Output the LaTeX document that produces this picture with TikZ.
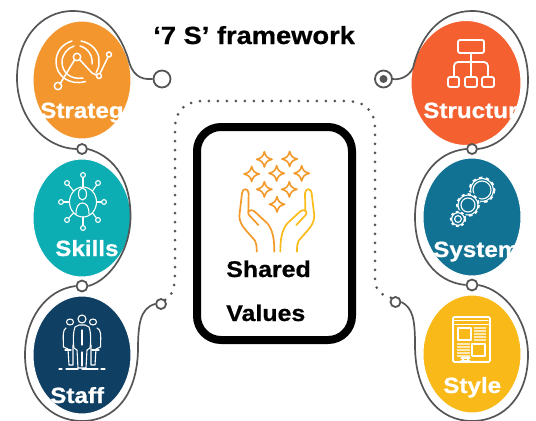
\documentclass[tikz,border=0pt]{standalone}
\usepackage{fontspec}
\setmainfont{Liberation Sans}
\newfontfamily\wb[FakeStretch=1.1,FakeBold=0.7]{Liberation Sans}
\usetikzlibrary{shapes.geometric}
\def\px{0.75pt}
\definecolor{cStrategy}{HTML}{F2962D}
\definecolor{cSkills}{HTML}{0CADB3}
\definecolor{cStaff}{HTML}{0F3F63}
\definecolor{cStructure}{HTML}{F4602F}
\definecolor{cSystems}{HTML}{127293}
\definecolor{cStyle}{HTML}{F9B918}
\definecolor{lineGray}{HTML}{555555}
\definecolor{paleLine}{HTML}{FDE9B8}
\definecolor{handL}{HTML}{F39A2B}
\definecolor{handR}{HTML}{FBBB1A}
\tikzset{
  blob/.style={ellipse,inner sep=0pt,draw=white,line width=1*\px},
  ring/.style={circle,draw=lineGray,fill=white,line width=1.8*\px,inner sep=0pt},
  wire/.style={draw=lineGray,line width=1.7*\px},
  dotline/.style={draw=lineGray,line width=3*\px,line cap=round,dash pattern=on 0pt off 9*\px},
  lab/.style={anchor=base west,inner sep=0pt,text=white,font=\wb\bfseries\fontsize{16.5}{18}\selectfont},
  blk/.style={anchor=base west,inner sep=0pt,text=black,font=\wb\bfseries\fontsize{17}{20}\selectfont},
  icon/.style={draw=white,line width=1.5*\px,line cap=round,line join=round},
  thin icon/.style={draw=white,line width=1.1*\px,line cap=round,line join=round},
  starp/.style={draw=#1,line width=1.6*\px,line join=round}
}
\newcommand{\sparkle}[2]{\draw[starp=handL] (#1,#2) ++(0,-23) .. controls +(4,15) and +(-15,-4) .. ++(23,23) .. controls +(-15,4) and +(4,-15) .. ++(-23,23) .. controls +(-4,-15) and +(15,4) .. ++(-23,-23) .. controls +(15,-4) and +(-4,15) .. cycle;}
\begin{document}
\begin{tikzpicture}[x=0.75pt,y=-0.75pt]
\useasboundingbox (0,0) rectangle (536,421);

% coloured discs
\node[blob,fill=cStrategy,minimum width=98*\px,minimum height=118*\px] (strategy) at (82,80) {};
\node[blob,fill=cSkills,minimum width=98*\px,minimum height=118*\px] (skills) at (82,218) {};
\node[blob,fill=cStaff,minimum width=98*\px,minimum height=118*\px] (staff) at (82,355) {};
\node[blob,fill=cStructure,minimum width=110*\px,minimum height=125*\px] (structure) at (466,83) {};
\node[blob,fill=cSystems,minimum width=98*\px,minimum height=118*\px] (systems) at (472,217) {};
\node[blob,fill=cStyle,minimum width=98*\px,minimum height=118*\px] (style) at (472,354) {};

% connector rings
\node[ring,minimum size=17*\px] (L1) at (162,79) {};
\node[ring,minimum size=10*\px] (L2) at (82,149) {};
\node[ring,minimum size=11*\px] (L3) at (82,286) {};
\node[ring,minimum size=10*\px] (L4) at (161,304) {};
\node[ring,minimum size=17*\px] (R1) at (383.5,79) {};
\node[circle,fill=lineGray,minimum size=8*\px,inner sep=0pt] (R1dot) at (383.5,79) {};
\node[ring,minimum size=10*\px] (R2) at (472,149) {};
\node[ring,minimum size=11*\px] (R3) at (472,285) {};
\node[ring,minimum size=10*\px] (R4) at (395.5,302) {};

% winding lines
\draw[wire] (L1.west) .. controls (140,80) and (132,75) .. (128,58) .. controls (118,28) and (100,11) .. (73,11) .. controls (40,11) and (17,40) .. (17,78) .. controls (17,118) and (45,148) .. (L2.west);
\draw[wire] (L2.east) .. controls (110,155) and (130,175) .. (130.5,215) .. controls (131,250) and (110,280) .. (L3.east);
\draw[wire] (L3.west) .. controls (45,290) and (25,320) .. (25,355) .. controls (25,395) and (50,421) .. (82,421) .. controls (115,421) and (137,395) .. (138,350) .. controls (138,325) and (140,308) .. (L4.west);
\draw[wire] (R1.east) .. controls (398,80) and (408,78) .. (413,68) .. controls (422,30) and (445,11) .. (472,11) .. controls (505,11) and (528,40) .. (528,80) .. controls (528,118) and (505,146) .. (R2.east);
\draw[wire] (R2.west) .. controls (435,152) and (415,180) .. (415,217) .. controls (415,255) and (435,282) .. (R3.west);
\draw[wire] (R3.east) .. controls (505,290) and (528,320) .. (528,355) .. controls (528,395) and (505,421) .. (472,421) .. controls (440,421) and (415,395) .. (415,345) .. controls (415,320) and (413,308) .. (R4.east);

% dotted loop
\draw[dotline] (L4.north east) .. controls (170,298) and (175,290) .. (175,275) -- (175,130) .. controls (175,110) and (185,101) .. (205,101) -- (345,101) .. controls (365,101) and (375,110) .. (375,130) -- (375,280) .. controls (375,290) and (382,296) .. (R4.north west);

% centre box
\node[draw=black,line width=8*\px,rounded corners=24*\px,minimum width=155*\px,minimum height=213*\px,inner sep=0pt] (box) at (274.5,233.5) {};

% title & labels
\node[blk,font=\wb\bfseries\fontsize{18.6}{20}\selectfont] (title) at (153,44) {‘7 S’ framework};
\node[blk] (shared) at (226,277) {Shared};
\node[blk] (values) at (226,321) {Values};
\node[lab] (tStrategy) at (40,118) {Strateg};
\node[lab] (tSkills) at (55,256) {Skills};
\node[lab] (tStaff) at (50,403) {Staff};
\node[lab] (tStructure) at (423,118) {Structur};
\node[lab] (tSystems) at (433,257) {System};
\node[lab] (tStyle) at (443,393) {Style};

% strategy icon
\begin{scope}[icon]
\draw (85.5,81.5) .. controls (70,86) and (56,76) .. (56,62) .. controls (56,52) and (62,44) .. (72,41);
\draw (81,41) .. controls (92,43) and (100,52) .. (99,62) .. controls (99,67) and (98,70) .. (96,73);
\draw (83,78) .. controls (70,80) and (62,72) .. (62,62) .. controls (62,54) and (68,48) .. (74,46);
\draw (80,46) .. controls (88,48) and (93,56) .. (92,64);
\draw (77,57) circle (3.7);
\draw (74.5,60) -- (60,84);
\draw (80,60) -- (92,73) -- (96,75);
\draw (58,86) circle (3.7);
\draw (99,76) circle (2.5);
\draw (100,73.5) -- (108,57);
\draw (109,54.5) circle (2.5);
\end{scope}

% skills icon
\begin{scope}[thin icon]
\draw (83,202) ellipse (13.5 and 15);
\draw (82.5,194) ellipse (4 and 6);
\draw (76,214) .. controls (76,206) and (79,203) .. (82.5,203) .. controls (86,203) and (89,206) .. (89,214);
\foreach \a/\b/\c/\d in {83/175/83/187,83/228/83/217,61/202/69.5/202,104/202/96.5/202,67/183/73.5/191,98/183/92.5/191,67/220/73.5/213,98/220/92.5/213}{
  \draw (\a,\b) -- (\c,\d);
  \draw[fill=cSkills] (\a,\b) circle (2.4);
}
\end{scope}

% staff icon
\begin{scope}[thin icon]
\draw (70,322) ellipse (3.5 and 3);
\draw (93,322) ellipse (3.5 and 3);
\draw (82,319) ellipse (4 and 4);
\draw (66,328) .. controls (63,330) and (63,333) .. (63.5,347) -- (68,349) -- (69,365) -- (73,365) -- (73,345);
\draw (97,328) .. controls (101,330) and (101,333) .. (100.5,347) -- (96,349) -- (95,365) -- (91,365) -- (91,345);
\draw (75,327) .. controls (73,332) and (73,342) .. (74,348) -- (77,350) -- (78,368) -- (86,368) -- (87,350) -- (90,348) .. controls (91,342) and (91,332) .. (89,327) -- (85,325) -- (79,325) -- cycle;
\draw (82,330) -- (82,345);
\draw (82,352) -- (82,366);
\draw (65,350) -- (71,350) (92,350) -- (99,350);
\draw (59,369) -- (62,369) (66,369) -- (78,369) (82,369) -- (98,369) (101,369) -- (105,369);
\end{scope}

% structure icon
\begin{scope}[icon,line width=1.8*\px]
\draw[rounded corners=1.5] (458,40) rectangle (484,53);
\draw (471,53) -- (471,77);
\draw[rounded corners=3] (454,77) -- (454,62) -- (488,62) -- (488,77);
\draw[rounded corners=1.5] (448,77) rectangle (459,87);
\draw[rounded corners=1.5] (465,77) rectangle (477,87);
\draw[rounded corners=1.5] (482,77) rectangle (494,87);
\end{scope}

% systems icon
\begin{scope}[thin icon]
\draw (482,190) circle (9);
\draw[line width=1.8*\px,line cap=butt,dash pattern=on 2.6 off 2.6] (482,190) circle (12.5);
\draw (482,190) circle (11.5);
\fill[cSystems] (468,205) circle (13);
\draw (468,205) circle (7);
\draw (468,205) circle (10);
\draw[line width=1.8*\px,line cap=butt,dash pattern=on 2.4 off 2.4] (468,205) circle (11);
\fill[cSystems] (458,219) circle (9);
\draw (458,219) circle (3.4);
\draw (458,219) circle (6.3);
\draw[line width=1.8*\px,line cap=butt,dash pattern=on 2 off 2] (458,219) circle (7.3);
\end{scope}

% style icon
\begin{scope}[icon]
\draw[line width=1.8*\px,rounded corners=1] (453,317) rectangle (490,362);
\draw[thin icon] (454,320.5) -- (488,320.5) (454,324.5) -- (489,324.5);
\draw[line width=1.8*\px] (458,328) rectangle (471,340);
\draw[line width=1.8*\px] (472,344) rectangle (485,356);
\foreach \y in {328,331,334,337,340}{\draw[draw=paleLine,line width=1.5*\px,line cap=butt] (474,\y) -- (486,\y);}
\foreach \y in {344,347,350,353,356}{\draw[draw=paleLine,line width=1.5*\px,line cap=butt] (457,\y) -- (470,\y);}
\draw[line width=1.3*\px] (461,358) -- (470,358) (461,361) -- (470,361) (463,357) -- (463,362) (468,357) -- (468,362);
\end{scope}

% shared-values icon
\begin{scope}[shift={(180,110)},x=0.25pt,y=-0.25pt]
\sparkle{253}{148}
\sparkle{329}{147}
\sparkle{215}{192}
\sparkle{290}{190}
\sparkle{365}{190}
\sparkle{253}{238}
\sparkle{328}{238}
\sparkle{291}{283}
\draw[draw=handL,line width=1.7*\px,line join=round,line cap=round] (283,425) .. controls (283,385) and (278,360) .. (262,340) -- (222,303) .. controls (212,296) and (198,305) .. (207,315) -- (235,345);
\draw[draw=handL,line width=1.7*\px,line join=round,line cap=round] (205,303) -- (206,250) .. controls (204,232) and (187,235) .. (186,250) -- (178,318) .. controls (178,335) and (188,350) .. (197,360) -- (225,392) .. controls (230,400) and (230,410) .. (230,425);
\draw[draw=handR,line width=1.7*\px,line join=round,line cap=round] (301,425) .. controls (301,385) and (306,360) .. (322,340) -- (362,303) .. controls (372,296) and (386,305) .. (377,315) -- (349,345);
\draw[draw=handR,line width=1.7*\px,line join=round,line cap=round] (376,303) -- (375,250) .. controls (377,232) and (394,235) .. (395,250) -- (403,318) .. controls (403,335) and (393,350) .. (384,360) -- (356,392) .. controls (351,400) and (351,410) .. (351,425);
\end{scope}
\end{tikzpicture}
\end{document}
